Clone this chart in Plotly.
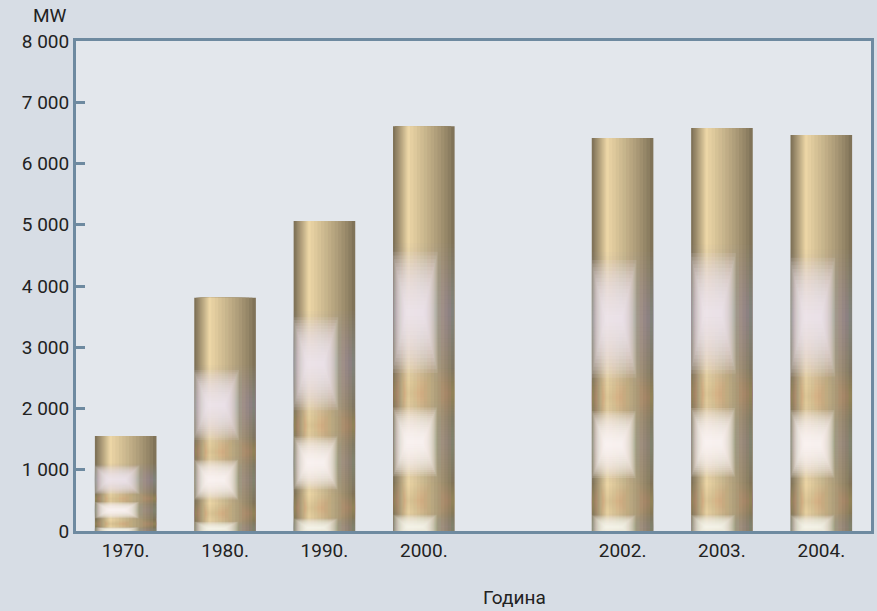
import plotly.graph_objects as go

# ---- data ----
categories = ["1970.", "1980.", "1990.", "2000.", " ", "2002.", "2003.", "2004."]
values_mw = [1550, 3810, 5060, 6610, None, 6415, 6580, 6465]
y_tick_values = [0, 1000, 2000, 3000, 4000, 5000, 6000, 7000, 8000]
y_tick_labels = ["0", "1 000", "2 000", "3 000", "4 000", "5 000", "6 000", "7 000", "8 000"]
y_unit = "MW"
x_title = "Година"

FONT = "Roboto, Liberation Sans, sans-serif"
FS = 19
AXIS = "#6e8aa0"
TXT = "#222222"

BAR_L, BAR_R = -0.31, 0.31      # bar extent around category centre
HL = -0.15                       # highlight position


def mix(c1, c2, t):
    return "#%02x%02x%02x" % tuple(round(a + (b - a) * t) for a, b in zip(c1, c2))


fig = go.Figure()

# cylinder-like horizontal shading: nested bars, darker at edges, bright near left
EDGE = (0x80, 0x73, 0x58)
HIGH = (0xec, 0xd6, 0xa6)
n_body = 14
for k in range(n_body):
    t = k / (n_body - 1)
    left = BAR_L + (HL - 0.012 - BAR_L) * (t ** 0.8)
    right = BAR_R + (HL + 0.012 - BAR_R) * t
    fig.add_trace(go.Bar(
        x=categories, y=values_mw, offset=left, width=right - left,
        marker=dict(color=mix(EDGE, HIGH, t ** 0.85), line=dict(width=0)),
        hoverinfo="skip", showlegend=False,
    ))

# soft reflective bands: (centre frac, half-height frac, rgb, total alpha at centre, x-centre, half-width)
bands = [
    (0.54, 0.17, "170,166,176", 0.40, 0.0, 0.31),
    (0.54, 0.15, "244,238,246", 0.85, -0.09, 0.23),
    (0.34, 0.06, "214,178,110", 0.30, 0.0, 0.31),
    (0.22, 0.10, "170,170,175", 0.40, 0.0, 0.31),
    (0.22, 0.085, "252,250,247", 0.92, -0.09, 0.22),
    (0.075, 0.045, "222,186,118", 0.30, 0.0, 0.31),
    (0.01, 0.035, "160,172,172", 0.40, 0.0, 0.31),
    (0.01, 0.03, "252,252,250", 0.85, -0.09, 0.22),
]
steps = 16
for c, h, rgb, total, xc, hw in bands:
    layer_a = 1 - (1 - total) ** (1 / steps)
    for i in range(steps):
        f = 1 - i / steps
        hh = h * f
        lo = max(c - hh, 0)
        hi = min(c + hh, 1)
        if hw >= 0.3:
            left, width = BAR_L, BAR_R - BAR_L
        else:
            ww = hw * (0.35 + 0.65 * f)
            left = max(xc - ww, BAR_L)
            width = min(xc + ww, BAR_R) - left
        base = [None if v is None else v * lo for v in values_mw]
        hgt = [None if v is None else v * (hi - lo) for v in values_mw]
        fig.add_trace(go.Bar(
            x=categories, y=hgt, base=base, offset=left, width=width,
            marker=dict(color=f"rgba({rgb},{layer_a:.3f})", line=dict(width=0)),
            hoverinfo="skip", showlegend=False,
        ))

fig.update_layout(
    width=877, height=611,
    barmode="overlay",
    paper_bgcolor="#d7dde5",
    plot_bgcolor="#e3e7ec",
    margin=dict(l=76, r=3, t=41, b=80),
    font=dict(family=FONT, size=FS, color=TXT),
    xaxis=dict(
        type="category", categoryorder="array", categoryarray=categories,
        range=[-0.5, 7.5],
        showgrid=False, zeroline=False,
        showline=True, linecolor=AXIS, linewidth=3, mirror=True,
        ticks="", tickfont=dict(family=FONT, size=FS, color=TXT),
    ),
    yaxis=dict(
        range=[0, 8000],
        tickvals=y_tick_values, ticktext=y_tick_labels,
        showgrid=False, zeroline=False,
        showline=True, linecolor=AXIS, linewidth=3, mirror=True,
        ticks="inside", ticklen=9, tickwidth=3, tickcolor=AXIS,
        tickfont=dict(family=FONT, size=FS, color=TXT),
    ),
    annotations=[
        dict(text=y_unit, xref="paper", yref="paper", x=-0.009, y=1.0, yshift=12,
             xanchor="right", yanchor="bottom", showarrow=False,
             font=dict(family=FONT, size=FS, color=TXT)),
        dict(text=x_title, xref="paper", yref="paper", x=0.551, y=-0.135,
             xanchor="center", yanchor="middle", showarrow=False,
             font=dict(family=FONT, size=FS, color=TXT)),
    ],
)

fig.write_html("out.html", config={"displayModeBar": False},
               post_script="document.body.style.margin='0';")
